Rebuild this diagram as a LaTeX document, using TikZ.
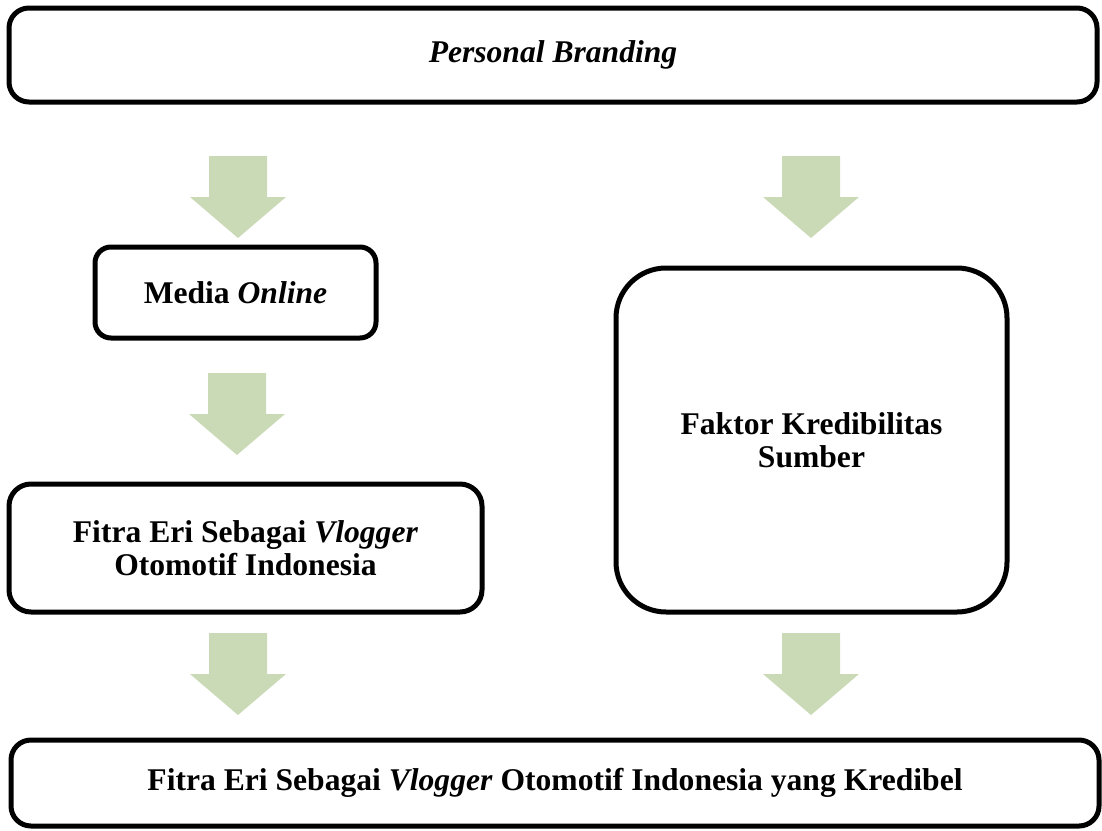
\documentclass[tikz,border=0pt]{standalone}
\usepackage{fontspec}
\setmainfont{Liberation Serif}
\usepackage{xcolor}
\definecolor{arrowgreen}{RGB}{203,218,182}

\tikzset{
  box/.style={draw, line width=2.5pt, rectangle, align=center, inner sep=0pt,
    font=\fontsize{15.8}{16.5}\selectfont\bfseries},
  blockarrow/.style={fill=arrowgreen}
}

\begin{document}
\begin{tikzpicture}[x=0.5pt, y=-0.5pt]
    \useasboundingbox (0,0) rectangle (1102,830);
    \node[box, rounded corners=10pt, minimum width=544pt, minimum height=47pt] (brand) at (553,55) {\textit{Personal Branding}};
    \node[box, rounded corners=8pt, minimum width=140.5pt, minimum height=45.5pt] (media) at (235.5,292.5) {Media \textit{Online}};
    \node[box, rounded corners=11pt, minimum width=236.5pt, minimum height=64pt] (vlogger) at (245.5,548) {Fitra Eri Sebagai \textit{Vlogger}\\Otomotif Indonesia};
    \node[box, rounded corners=25pt, minimum width=195.5pt, minimum height=172pt] (faktor) at (811.5,440) {Faktor Kredibilitas\\Sumber};
    \node[box, rounded corners=10pt, minimum width=544pt, minimum height=43pt] (kredibel) at (555,783) {Fitra Eri Sebagai \textit{Vlogger} Otomotif Indonesia yang Kredibel};
    \foreach \x/\y in {238/156, 811/156, 237/373, 238/633, 811/633}
        \fill[blockarrow] (\x-29,\y) -- ++(58,0) -- ++(0,41) -- ++(19,0) -- (\x,\y+82) -- (\x-48,\y+41) -- ++(19,0) -- cycle;
\end{tikzpicture}
\end{document}
